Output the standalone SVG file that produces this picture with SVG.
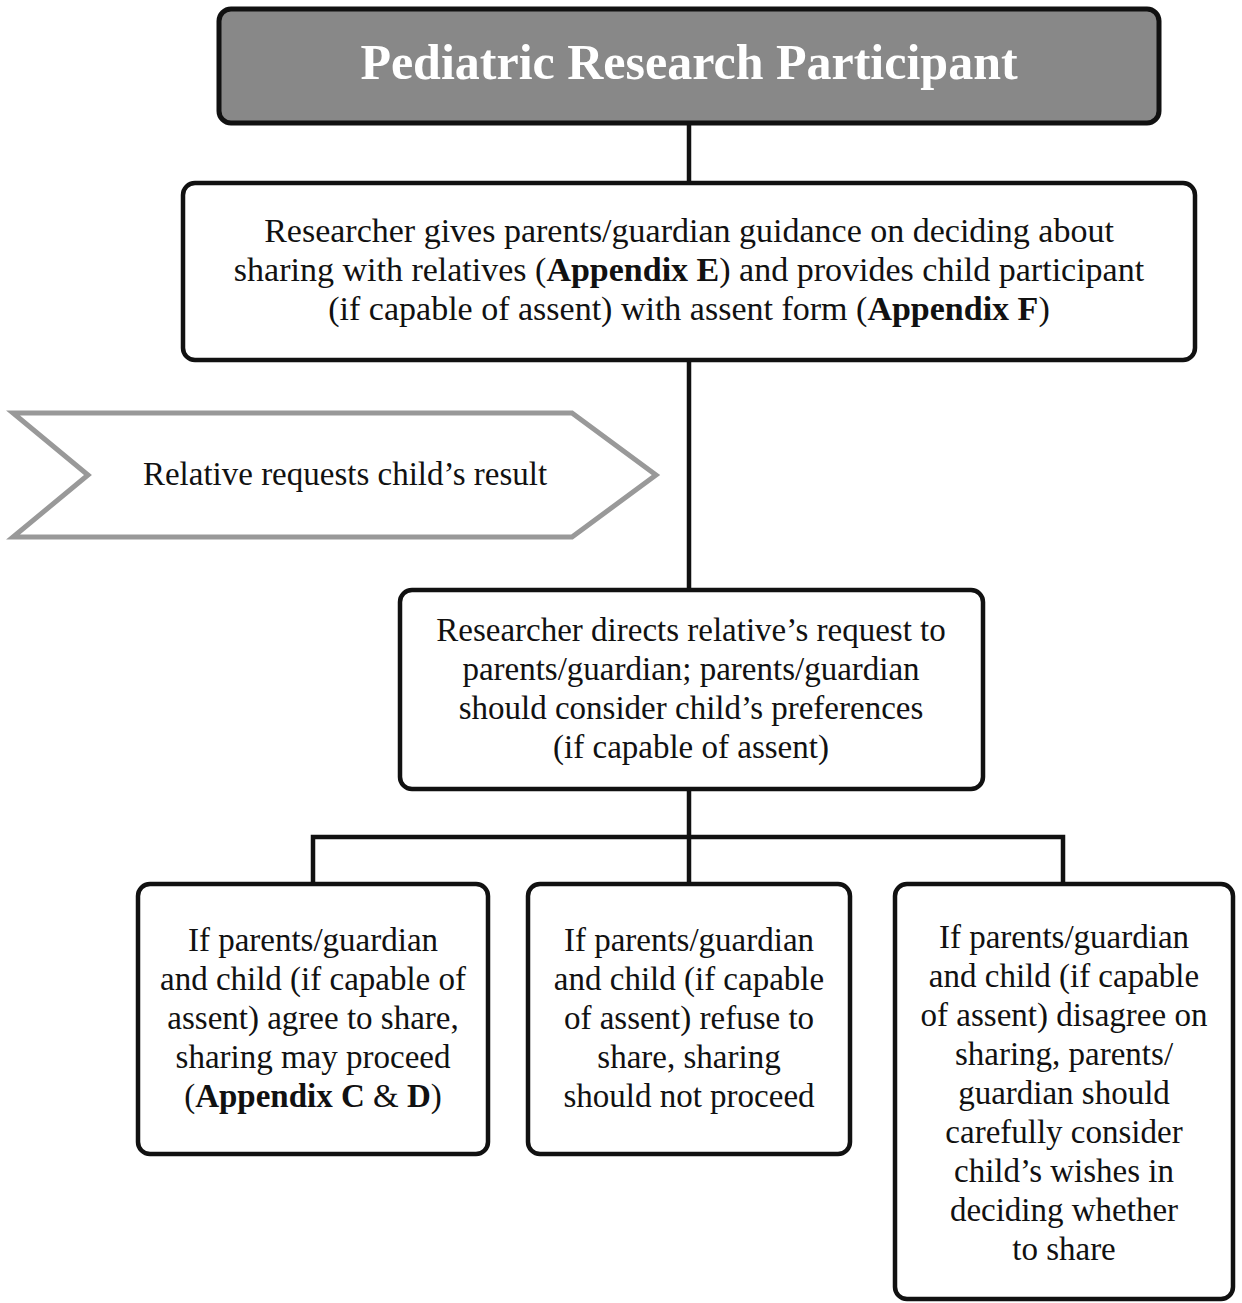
<svg xmlns="http://www.w3.org/2000/svg" width="1242" height="1303" viewBox="0 0 1242 1303">
<style>
.box{fill:#fff;stroke:#111;stroke-width:4.5}
.t{font-family:"Liberation Serif","DejaVu Serif",serif;font-size:33px;fill:#111;text-anchor:middle}
.b{font-weight:bold}
.conn{stroke:#111;stroke-width:4.5;fill:none}
</style>
<rect width="1242" height="1303" fill="#fff"/>
<g id="connectors">
<line class="conn" x1="689" y1="124" x2="689" y2="182"/>
<line class="conn" x1="689" y1="361" x2="689" y2="589"/>
<line class="conn" x1="689" y1="790" x2="689" y2="883"/>
<polyline class="conn" points="313,883 313,837 1063,837 1063,883"/>
</g>
<g id="participant">
<rect x="219" y="9" width="940" height="114" rx="12" fill="#888" stroke="#111" stroke-width="5"/>
<text x="689" y="79" class="t b" style="font-size:50px;fill:#fff">Pediatric Research Participant</text>
</g>
<g id="guidance" style="font-size:34px">
<rect class="box" x="183" y="183" width="1012" height="177" rx="12"/>
<text class="t" style="font-size:34px" x="689" y="242">Researcher gives parents/guardian guidance on deciding about</text>
<text class="t" style="font-size:34px" x="689" y="281">sharing with relatives (<tspan class="b">Appendix E</tspan>) and provides child participant</text>
<text class="t" style="font-size:34px" x="689" y="320">(if capable of assent) with assent form (<tspan class="b">Appendix F</tspan>)</text>
</g>
<g id="request">
<polygon points="13,413 572,413 656,475 572,537 13,537 88,475" fill="#fff" stroke="#999" stroke-width="5"/>
<text class="t" x="345" y="485">Relative requests child’s result</text>
</g>
<g id="directs">
<rect class="box" x="400" y="590" width="583" height="199" rx="12"/>
<text class="t" x="691" y="641">Researcher directs relative’s request to</text>
<text class="t" x="691" y="680">parents/guardian; parents/guardian</text>
<text class="t" x="691" y="719">should consider child’s preferences</text>
<text class="t" x="691" y="758">(if capable of assent)</text>
</g>
<g id="agree">
<rect class="box" x="138" y="884" width="350" height="270" rx="12"/>
<text class="t" x="313" y="951">If parents/guardian</text>
<text class="t" x="313" y="990">and child (if capable of</text>
<text class="t" x="313" y="1029">assent) agree to share,</text>
<text class="t" x="313" y="1068">sharing may proceed</text>
<text class="t" x="313" y="1107">(<tspan class="b">Appendix C</tspan> &amp; <tspan class="b">D</tspan>)</text>
</g>
<g id="refuse">
<rect class="box" x="528" y="884" width="322" height="270" rx="12"/>
<text class="t" x="689" y="951">If parents/guardian</text>
<text class="t" x="689" y="990">and child (if capable</text>
<text class="t" x="689" y="1029">of assent) refuse to</text>
<text class="t" x="689" y="1068">share, sharing</text>
<text class="t" x="689" y="1107">should not proceed</text>
</g>
<g id="disagree">
<rect class="box" x="895" y="884" width="338" height="415" rx="12"/>
<text class="t" x="1064" y="948">If parents/guardian</text>
<text class="t" x="1064" y="987">and child (if capable</text>
<text class="t" x="1064" y="1026">of assent) disagree on</text>
<text class="t" x="1064" y="1065">sharing, parents/</text>
<text class="t" x="1064" y="1104">guardian should</text>
<text class="t" x="1064" y="1143">carefully consider</text>
<text class="t" x="1064" y="1182">child’s wishes in</text>
<text class="t" x="1064" y="1221">deciding whether</text>
<text class="t" x="1064" y="1260">to share</text>
</g>
</svg>
